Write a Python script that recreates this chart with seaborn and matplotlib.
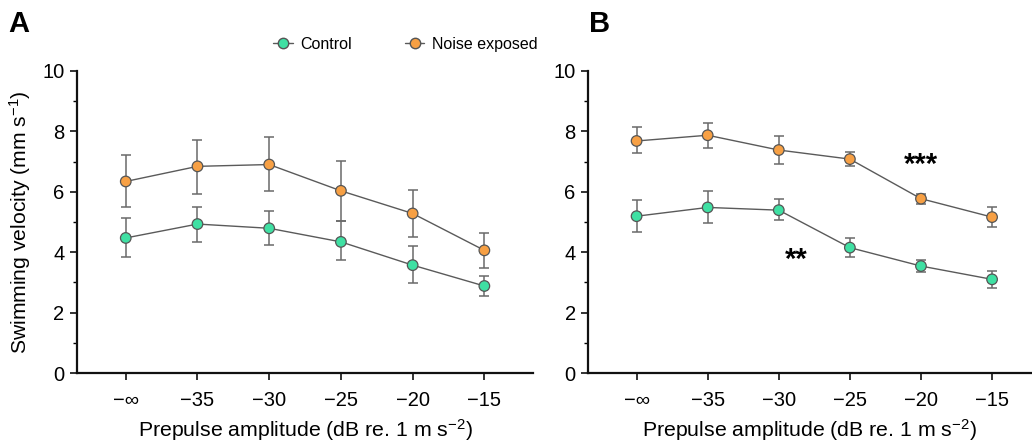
import matplotlib
matplotlib.use("Agg")
import matplotlib.pyplot as plt
import numpy as np
import pandas as pd
import seaborn as sns
from matplotlib.lines import Line2D
from matplotlib.ticker import MultipleLocator

sns.set_style("ticks")
plt.rcParams["font.family"] = ["Liberation Sans", "DejaVu Sans"]
plt.rcParams["mathtext.fontset"] = "custom"
plt.rcParams["mathtext.rm"] = "Liberation Sans"
plt.rcParams["mathtext.it"] = "Liberation Sans:italic"
plt.rcParams["text.color"] = "black"
plt.rcParams["axes.labelcolor"] = "black"
plt.rcParams["xtick.color"] = "black"
plt.rcParams["ytick.color"] = "black"

TICKS = ["\u2212\u221e", "\u221235", "\u221230", "\u221225", "\u221220", "\u221215"]
GROUPS = ["Control", "Noise exposed"]
COLORS = {"Control": "#3fe0a3", "Noise exposed": "#f7a044"}

# panel A
a_ctrl = [4.47, 4.93, 4.79, 4.34, 3.57, 2.88]
a_ctrl_hi = [5.13, 5.51, 5.35, 5.02, 4.19, 3.21]
a_ctrl_lo = [3.83, 4.33, 4.23, 3.73, 2.98, 2.55]
a_noise = [6.34, 6.84, 6.90, 6.03, 5.28, 4.06]
a_noise_hi = [7.20, 7.72, 7.82, 7.02, 6.05, 4.65]
a_noise_lo = [5.51, 5.93, 6.01, 5.04, 4.51, 3.48]

# panel B
b_ctrl = [5.19, 5.48, 5.39, 4.15, 3.54, 3.10]
b_ctrl_hi = [5.74, 6.01, 5.76, 4.47, 3.74, 3.36]
b_ctrl_lo = [4.67, 4.97, 5.05, 3.83, 3.33, 2.82]
b_noise = [7.68, 7.87, 7.38, 7.08, 5.77, 5.16]
b_noise_hi = [8.13, 8.29, 7.83, 7.33, 5.92, 5.50]
b_noise_lo = [7.27, 7.45, 6.93, 6.84, 5.61, 4.83]


def make_df(ctrl, ctrl_hi, ctrl_lo, noise, noise_hi, noise_lo):
    rows = []
    for g, m, hi, lo in [("Control", ctrl, ctrl_hi, ctrl_lo),
                         ("Noise exposed", noise, noise_hi, noise_lo)]:
        for i in range(len(TICKS)):
            rows.append({"x": i, "group": g, "y": m[i], "hi": hi[i], "lo": lo[i]})
    return pd.DataFrame(rows)


def draw(ax, df):
    for g in GROUPS:
        d = df[df["group"] == g]
        ax.errorbar(d["x"], d["y"], yerr=[d["y"] - d["lo"], d["hi"] - d["y"]],
                    fmt="none", ecolor="#6a6a6a", elinewidth=1.1, capsize=3.4,
                    capthick=1.1, zorder=2)
    sns.lineplot(data=df, x="x", y="y", units="group", estimator=None,
                 color="#5a5a5a", linewidth=1.0, ax=ax, zorder=3)
    sns.scatterplot(data=df, x="x", y="y", hue="group", palette=COLORS,
                    s=58, edgecolor="#555555", linewidth=0.9, ax=ax,
                    legend=False, zorder=4)
    ax.set_ylim(0, 10)
    ax.set_xlim(-0.68, 5.68)
    ax.yaxis.set_major_locator(MultipleLocator(2))
    ax.yaxis.set_minor_locator(MultipleLocator(1))
    ax.set_xticks(range(len(TICKS)))
    ax.set_xticklabels(TICKS)
    ax.tick_params(axis="both", which="major", labelsize=14.5, length=5,
                   width=1.2, color="#111111", pad=8)
    ax.tick_params(axis="y", which="minor", length=3, width=1.0)
    ax.tick_params(axis="y", which="major", pad=4)
    for s in ["left", "bottom"]:
        ax.spines[s].set_linewidth(1.6)
        ax.spines[s].set_color("#111111")
    sns.despine(ax=ax)
    ax.set_xlabel("Prepulse amplitude (dB re. 1 m s$^{\u22122}$)", fontsize=15.3,
                  labelpad=5)
    ax.set_ylabel("")


fig = plt.figure(figsize=(10.32, 4.43), dpi=100)
axA = fig.add_axes([0.0746, 0.158, 0.442, 0.682])
axB = fig.add_axes([0.570, 0.158, 0.4292, 0.682])

draw(axA, make_df(a_ctrl, a_ctrl_hi, a_ctrl_lo, a_noise, a_noise_hi, a_noise_lo))
draw(axB, make_df(b_ctrl, b_ctrl_hi, b_ctrl_lo, b_noise, b_noise_hi, b_noise_lo))
axB.set_xlim(-0.68, 5.55)

axA.set_ylabel("Swimming velocity (mm s$^{\u22121}$)", fontsize=15.2, labelpad=7)

axB.text(4.0, 6.9, "***", fontsize=21, fontweight="bold", ha="center", va="center")
axB.text(2.25, 3.75, "**", fontsize=21, fontweight="bold", ha="center", va="center")

fig.text(0.008, 0.945, "A", fontsize=21, fontweight="bold", va="center")
fig.text(0.571, 0.945, "B", fontsize=21, fontweight="bold", va="center")

handles = [Line2D([0], [0], color="#5a5a5a", lw=1.0, marker="o",
                  markersize=7.5, markerfacecolor=COLORS[g],
                  markeredgecolor="#555555", label=g) for g in GROUPS]
fig.legend(handles=handles, loc="center", bbox_to_anchor=(0.393, 0.9),
           ncol=2, frameon=False, fontsize=11.5, handlelength=1.2,
           handletextpad=0.5, columnspacing=3.3)

fig.savefig("out.png", dpi=100)
